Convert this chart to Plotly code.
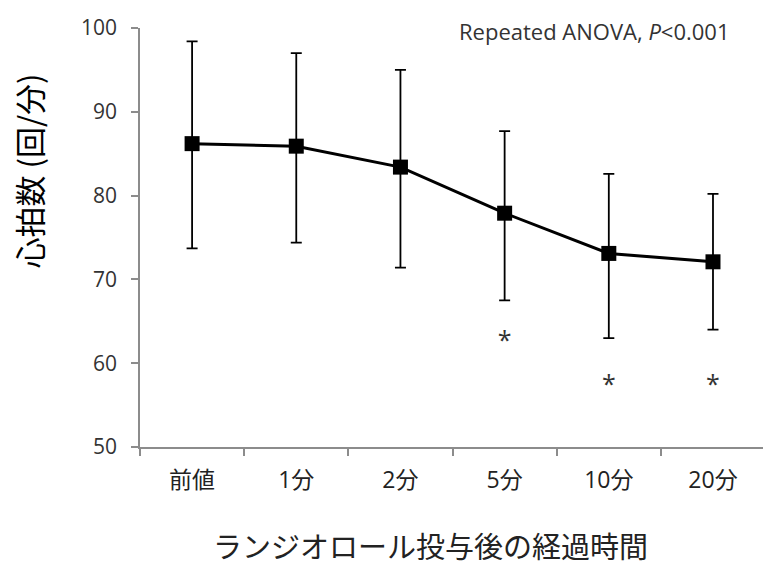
import plotly.graph_objects as go

categories = ["前値", "1分", "2分", "5分", "10分", "20分"]
mean_hr = [86.2, 85.9, 83.4, 77.9, 73.1, 72.1]
upper_hr = [98.4, 97.0, 95.0, 87.7, 82.6, 80.2]
lower_hr = [73.7, 74.4, 71.4, 67.5, 63.0, 64.0]

sig_categories = ["5分", "10分", "20分"]
sig_y = [62.4, 57.2, 57.2]
sig_text = ["*", "*", "*"]

y_ticks = [50, 60, 70, 80, 90, 100]

err_plus = [u - m for u, m in zip(upper_hr, mean_hr)]
err_minus = [m - l for m, l in zip(mean_hr, lower_hr)]

base_font = "Open Sans, Noto Sans CJK JP, sans-serif"

fig = go.Figure()
fig.add_trace(go.Scatter(
    x=categories, y=mean_hr, mode="lines+markers",
    line=dict(color="black", width=3),
    marker=dict(symbol="square", size=15, color="black"),
    error_y=dict(type="data", symmetric=False, array=err_plus, arrayminus=err_minus,
                 color="black", thickness=1.8, width=5.5),
    showlegend=False, cliponaxis=False,
))
fig.add_trace(go.Scatter(
    x=sig_categories, y=sig_y, mode="text", text=sig_text,
    textfont=dict(size=25, color="#333333", family=base_font),
    textposition="middle center", showlegend=False, cliponaxis=False,
))

fig.update_layout(
    width=763, height=569,
    margin=dict(l=140, r=0, t=28, b=122),
    plot_bgcolor="white", paper_bgcolor="white",
    font=dict(family=base_font, color="#333333"),
    xaxis=dict(
        type="category", categoryorder="array", categoryarray=categories,
        range=[-0.5, 5.48], tickson="boundaries", ticks="outside", ticklen=7,
        tickcolor="#8c8c8c", tickwidth=1.5, showline=True, linecolor="#8c8c8c",
        linewidth=1.5, showgrid=False, zeroline=False,
        tickfont=dict(size=23, color="#222222", family=base_font),
        ticklabelstandoff=12,
    ),
    yaxis=dict(
        range=[50, 100], tickvals=y_ticks, ticks="outside", ticklen=7,
        tickcolor="#8c8c8c", tickwidth=1.5, showline=True, linecolor="#8c8c8c",
        linewidth=1.5, showgrid=False, zeroline=False,
        tickfont=dict(size=21, color="#333333", family=base_font),
        ticklabelstandoff=10,
    ),
    annotations=[
        dict(text="Repeated ANOVA, <i>P</i><0.001", xref="paper", yref="paper",
             x=1.0, y=1.0, xshift=-31, yshift=-3, xanchor="right", yanchor="middle",
             showarrow=False, font=dict(size=22, color="#333333", family=base_font)),
        dict(text="心拍数 (回/分)", xref="paper", yref="paper", x=0, y=0.5,
             xshift=-112, yshift=66, textangle=-90, xanchor="center", yanchor="middle",
             showarrow=False, font=dict(size=31, color="black", family="Noto Sans CJK JP")),
        dict(text="ランジオロール投与後の経過時間", xref="paper", yref="paper", x=0.5, y=0,
             xshift=-21, yshift=-98, xanchor="center", yanchor="middle",
             showarrow=False, font=dict(size=29, color="#222222", family="Noto Sans CJK JP")),
    ],
)

fig.write_html("out.html")
